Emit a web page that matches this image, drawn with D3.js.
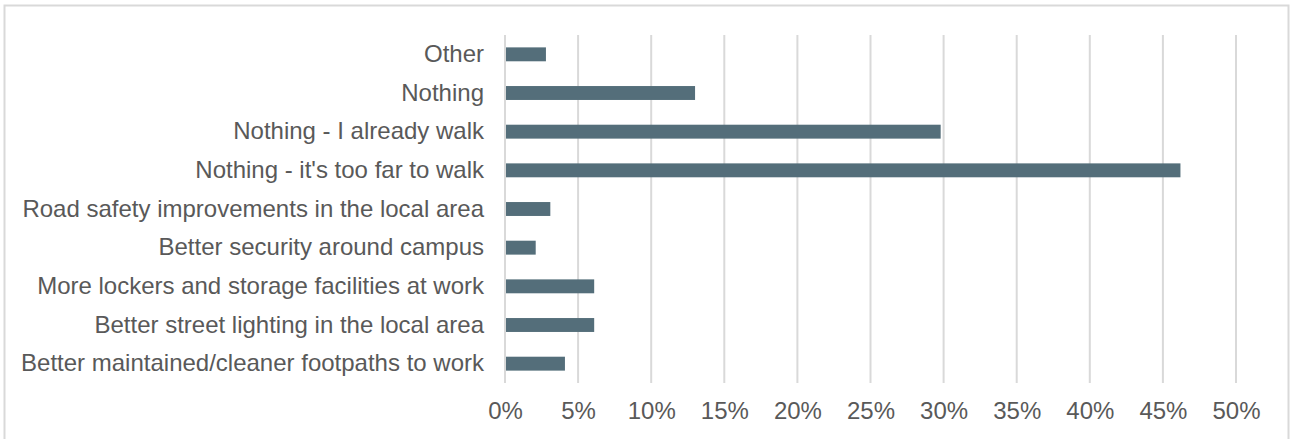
<!DOCTYPE html>
<html><head><meta charset="utf-8">
<script src="https://cdn.jsdelivr.net/npm/d3@7"></script>
<style>body{margin:0;background:#fff}svg{display:block}</style>
</head><body>
<script>
const categories = ["Other","Nothing","Nothing - I already walk","Nothing - it's too far to walk","Road safety improvements in the local area","Better security around campus","More lockers and storage facilities at work","Better street lighting in the local area","Better maintained/cleaner footpaths to work"];
const values = [2.8, 13.0, 29.8, 46.2, 3.1, 2.1, 6.1, 6.1, 4.1];
const tickValues = [0,5,10,15,20,25,30,35,40,45,50];

const W = 1290, H = 439;
const svg = d3.select("body").append("svg").attr("width", W).attr("height", H);
svg.append("rect").attr("x",4.5).attr("y",5.5).attr("width",1284).attr("height",440)
  .attr("fill","#fff").attr("stroke","#d9d9d9").attr("stroke-width",2);

const x = d3.scaleLinear().domain([0,50]).range([505,1236]);
const y = d3.scaleBand().domain(categories).range([35,383]).paddingInner(0.64).paddingOuter(0.32);

svg.append("g").selectAll("line").data(tickValues).join("line")
  .attr("x1",d=>x(d)).attr("x2",d=>x(d)).attr("y1",35).attr("y2",383)
  .attr("stroke","#d9d9d9").attr("stroke-width",2);

svg.append("g").selectAll("rect").data(values).join("rect")
  .attr("x",x(0)+1).attr("y",(d,i)=>y(categories[i]))
  .attr("width",d=>x(d)-x(0)-1).attr("height",y.bandwidth())
  .attr("fill","#546e7a");

const yAxis = d3.axisLeft(y).tickSize(0).tickPadding(21);
const gy = svg.append("g").attr("transform","translate(505,0)").call(yAxis);
gy.select(".domain").remove();
gy.selectAll("text").attr("font-family","Liberation Sans, Arial, sans-serif").attr("font-size",24).attr("fill","#595959");

const xAxis = d3.axisBottom(x).tickValues(tickValues).tickFormat(d=>d+"%").tickSize(0).tickPadding(19);
const gx = svg.append("g").attr("transform","translate(0,383)").call(xAxis);
gx.select(".domain").remove();
gx.selectAll("text").attr("font-family","Liberation Sans, Arial, sans-serif").attr("font-size",24).attr("fill","#595959");
</script>
</body></html>
